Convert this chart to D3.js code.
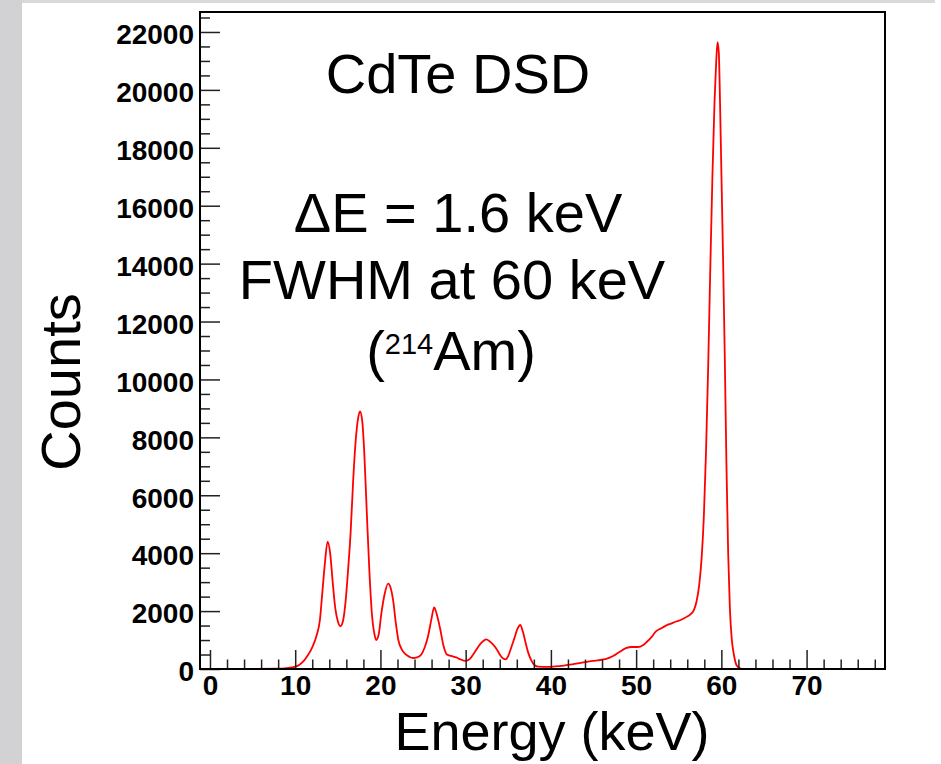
<!DOCTYPE html>
<html>
<head>
<meta charset="utf-8">
<script src="https://cdn.jsdelivr.net/npm/d3@7"></script>
<style>
    body { margin: 0; background: #fff; }
    svg { display: block; }
    text { font-family: "Liberation Sans", Arial, Helvetica, sans-serif; }
</style>
</head>
<body>
<div id="chart"></div>
<script>
// Spectrum: energy (keV) and counts per bin
const energy = [
    0.5, 4, 8, 9, 10, 10.5, 11, 11.5, 12, 12.5, 12.9, 13.2, 13.5, 13.8, 14.1, 14.4, 14.7,
    15.0, 15.3, 15.6, 15.9, 16.2, 16.5, 16.8, 17.1, 17.4, 17.6, 17.85, 18.1, 18.4, 18.7,
    19.0, 19.3, 19.5, 19.8, 20.1, 20.5, 20.9, 21.2, 21.5, 21.8, 22.1, 22.5, 22.9, 23.4,
    23.8, 24.3, 24.8, 25.2, 25.6, 26.0, 26.3, 26.6, 27.0, 27.4, 27.8, 28.3, 28.9, 29.4,
    30.0, 30.5, 31.0, 31.5, 32.0, 32.4, 32.8, 33.2, 33.6, 34.0, 34.4, 34.7, 35.0, 35.3,
    35.7, 36.1, 36.4, 36.7, 37.0, 37.3, 37.7, 38.1, 38.5, 39.5, 40.5, 41.5, 42.5, 43.5,
    44.5, 45.5, 46.5, 47.3, 48.0, 48.8, 49.5, 50.2, 50.8, 51.3, 51.8, 52.3, 52.9, 53.5,
    54.1, 54.7, 55.3, 55.8, 56.3, 56.8, 57.1, 57.4, 57.7, 57.95, 58.2, 58.45, 58.7, 58.95,
    59.2, 59.4, 59.55, 59.7, 59.85, 60.0, 60.2, 60.4, 60.6, 60.8, 61.0, 61.2, 61.5, 61.8,
    62.2, 62.6, 70, 79.2
];
const counts = [
    0, 0, 10, 30, 80, 150, 280, 480, 750, 1150, 1700, 2700, 3700, 4400, 4000, 3000, 2100,
    1650, 1480, 1650, 2300, 3400, 4700, 6500, 7900, 8700, 8900, 8600, 7500, 5400, 3400,
    1900, 1200, 1000, 1200, 1900, 2600, 2950, 2800, 2350, 1600, 1000, 680, 520, 420,
    380, 400, 500, 750, 1150, 1750, 2130, 1900, 1400, 800, 500, 450, 400, 330,
    280, 350, 550, 780, 950, 1020, 960, 850, 700, 500, 360, 330, 450, 700,
    1050, 1400, 1520, 1300, 950, 600, 300, 130, 80, 70, 90, 120, 160, 210,
    260, 300, 350, 450, 580, 720, 760, 760, 820, 950, 1100, 1290, 1400, 1500,
    1570, 1640, 1700, 1780, 1870, 2050, 2350, 2900, 3900, 5300, 7500, 10400, 13800, 17000,
    19600, 21000, 21650, 21300, 19500, 17200, 14200, 10800, 7000, 4000, 2100, 1100, 450, 120,
    20, 0, 0, 0
];

// Axis ticks
const xTicks = [0, 10, 20, 30, 40, 50, 60, 70];
const yTicks = [0, 2000, 4000, 6000, 8000, 10000, 12000, 14000, 16000, 18000, 20000, 22000];

const width = 941;
const height = 764;
const frame = { left: 200, top: 12, right: 885, bottom: 669 };

const svg = d3.select("#chart").append("svg")
    .attr("width", width)
    .attr("height", height);

// grey page edges from the slide
svg.append("rect").attr("x", 0).attr("y", 0).attr("width", 22).attr("height", height).attr("fill", "#d2d2d5");
svg.append("rect").attr("x", 22).attr("y", 0).attr("width", 913).attr("height", 3).attr("fill", "#d9d9d9");

const x = d3.scaleLinear().domain([-1.17, 79.2]).range([frame.left, frame.right]);
const y = d3.scaleLinear().domain([0, 22690]).range([frame.bottom, frame.top]);

// spectrum line
const pts = energy.map((e, i) => [e, counts[i]]);
svg.append("path")
    .datum(pts)
    .attr("fill", "none")
    .attr("stroke", "#ff0000")
    .attr("stroke-width", 1.8)
    .attr("d", d3.line()
        .x(d => x(d[0]))
        .y(d => y(d[1]))
        .curve(d3.curveMonotoneX));

// minor ticks
const xMinor = d3.range(0, 79, 2).filter(v => v % 10 !== 0);
const yMinor = d3.range(0, 22501, 500).filter(v => v % 2000 !== 0);

svg.append("g")
    .attr("transform", `translate(0,${frame.bottom})`)
    .call(d3.axisBottom(x).tickValues(xMinor).tickSize(-9.5).tickFormat(""))
    .call(g => g.select(".domain").remove());

svg.append("g")
    .attr("transform", `translate(${frame.left},0)`)
    .call(d3.axisLeft(y).tickValues(yMinor).tickSize(-10).tickFormat(""))
    .call(g => g.select(".domain").remove());

// major ticks with labels
const xAxis = svg.append("g")
    .attr("transform", `translate(0,${frame.bottom})`)
    .call(d3.axisBottom(x).tickValues(xTicks).tickSize(-19).tickPadding(6).tickFormat(d3.format("d")))
    .call(g => g.select(".domain").remove());

const yAxis = svg.append("g")
    .attr("transform", `translate(${frame.left},0)`)
    .call(d3.axisLeft(y).tickValues(yTicks).tickSize(-20).tickPadding(6).tickFormat(d3.format("d")))
    .call(g => g.select(".domain").remove());

svg.selectAll(".tick line").attr("stroke", "#222").attr("stroke-width", 1.5);

[xAxis, yAxis].forEach(g => g.selectAll("text")
    .attr("font-family", "'Liberation Sans', Arial, Helvetica, sans-serif")
    .attr("font-size", 28)
    .attr("font-weight", "bold")
    .attr("fill", "#000"));
yAxis.selectAll("text").attr("dy", "0.42em");

// frame
svg.append("rect")
    .attr("x", frame.left)
    .attr("y", frame.top)
    .attr("width", frame.right - frame.left)
    .attr("height", frame.bottom - frame.top)
    .attr("fill", "none")
    .attr("stroke", "#000")
    .attr("stroke-width", 2);

// axis titles
svg.append("text")
    .attr("x", 552)
    .attr("y", 750)
    .attr("text-anchor", "middle")
    .attr("font-size", 54)
    .text("Energy (keV)");

svg.append("text")
    .attr("transform", "translate(80,382) rotate(-90)")
    .attr("text-anchor", "middle")
    .attr("font-size", 56)
    .text("Counts");

// annotations
const notes = [
    { text: "CdTe DSD", x: 458, y: 93 },
    { text: "ΔE = 1.6 keV", x: 458, y: 232 },
    { text: "FWHM at 60 keV", x: 452, y: 299 }
];
svg.selectAll(".note")
    .data(notes)
    .enter()
    .append("text")
    .attr("class", "note")
    .attr("x", d => d.x)
    .attr("y", d => d.y)
    .attr("text-anchor", "middle")
    .attr("font-size", 56)
    .text(d => d.text);

const iso = svg.append("text")
    .attr("x", 451)
    .attr("y", 370)
    .attr("text-anchor", "middle")
    .attr("font-size", 56);
iso.append("tspan").text("(");
iso.append("tspan").attr("font-size", 29).attr("dy", -16).text("214");
iso.append("tspan").attr("dy", 16).text("Am)");
</script>
</body>
</html>
